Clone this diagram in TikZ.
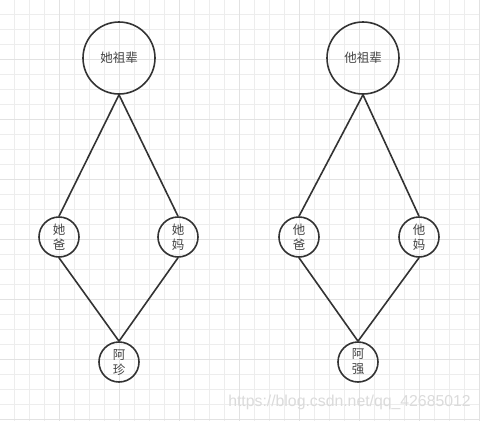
\documentclass[tikz,border=0pt]{standalone}
\usepackage{fontspec}
\newfontfamily\cjk{Noto Sans CJK SC}
\newfontfamily\wmfont{Liberation Sans}
\usetikzlibrary{positioning}
\definecolor{minorgrid}{HTML}{EDEDED}
\definecolor{majorgrid}{HTML}{E2E2E2}
\definecolor{inkline}{HTML}{333333}
\definecolor{inktext}{HTML}{444444}

\begin{document}
\begin{tikzpicture}[
x=1pt, y=-1pt,
on grid,
elder/.style={draw=inkline, circle, line width=1.6pt,
minimum size=72pt, inner sep=0pt, text=inktext,
font=\cjk\fontsize{12.5}{15}\selectfont},
kin/.style={draw=inkline, circle, line width=1.6pt,
minimum size=40pt, inner sep=0pt, text=inktext, align=center,
font=\cjk\fontsize{12.5}{15}\selectfont},
link/.style={draw=inkline, line width=1.6pt}
]

% background grid
\useasboundingbox (0,0) rectangle (480,421);
\fill[white] (0,0) rectangle (480,421);
\draw[minorgrid, line width=0.8pt, shift={(-0.7,-0.7)}] (0,0) grid[step=15pt] (481,422);
\draw[majorgrid, line width=0.8pt, shift={(-0.7,-0.7)}] (0,0) grid[step=60pt] (481,422);

% her side
\node[elder] (herroot) at (119,58) {她祖辈};
\node[kin, below left=179pt and 60pt of herroot] (herdad) {她\\爸};
\node[kin, below right=179pt and 59pt of herroot] (hermom) {她\\妈};
\node[kin, below right=125pt and 60pt of herdad] (azhen) {阿\\珍};

% his side
\node[elder] (hisroot) at (363,58) {他祖辈};
\node[kin, below left=179pt and 64pt of hisroot] (hisdad) {他\\爸};
\node[kin, below right=179pt and 56pt of hisroot] (hismom) {他\\妈};
\node[kin, below right=125pt and 59pt of hisdad] (aqiang) {阿\\强};

\draw[link] (herroot.south) -- (herdad.north);
\draw[link] (herroot.south) -- (hermom.north);
\draw[link] (herdad.south) -- (azhen.north);
\draw[link] (hermom.south) -- (azhen.north);

\draw[link] (hisroot.south) -- (hisdad.north);
\draw[link] (hisroot.south) -- (hismom.north);
\draw[link] (hisdad.south) -- (aqiang.north);
\draw[link] (hismom.south) -- (aqiang.north);

% watermark
\node[text=black!14, font=\wmfont\fontsize{15.8}{18}\selectfont, inner sep=0pt] (mark) at (349.5,402) {https://blog.csdn.net/qq\_42685012};

\end{tikzpicture}
\end{document}
